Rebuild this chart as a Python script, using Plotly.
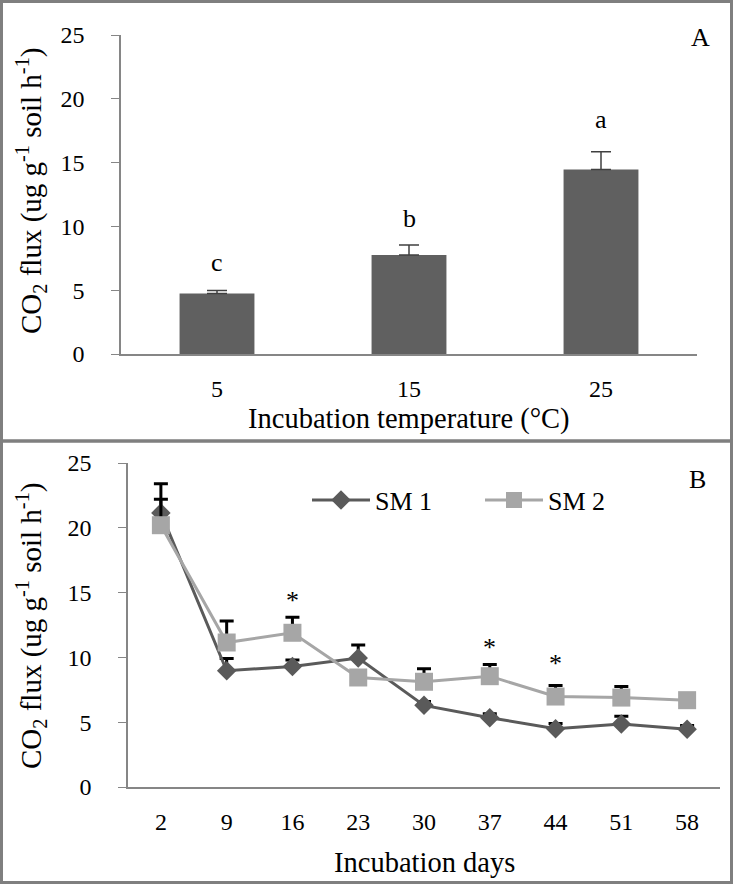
import plotly.graph_objects as go

# ---- Panel A data ----
temps = ["5", "15", "25"]
flux_temp = [4.75, 7.75, 14.45]
flux_temp_err = [0.22, 0.8, 1.4]
letters = ["c", "b", "a"]
letter_y = [7.2, 10.6, 18.4]

# ---- Panel B data ----
days = ["2", "9", "16", "23", "30", "37", "44", "51", "58"]
sm1 = [21.15, 8.97, 9.3, 9.95, 6.3, 5.35, 4.5, 4.86, 4.45]
sm1_err = [2.25, 0.95, 0.5, 1.0, 0.3, 0.3, 0.4, 0.6, 0.3]
sm2 = [20.2, 11.15, 11.9, 8.45, 8.12, 8.55, 6.98, 6.9, 6.7]
sm2_err = [2.0, 1.65, 1.2, 0.3, 1.0, 0.9, 0.85, 0.85, 0.3]
star_days = ["16", "37", "44"]
star_y = [14.4, 10.8, 9.5]

W, H = 733, 884
FONT = "'Liberation Serif', 'Times New Roman', 'DejaVu Serif', serif"
AXC = "#868686"

def px(x):
    return x / W

def py(y):
    return 1 - y / H

fig = go.Figure()

fig.add_trace(go.Bar(
    x=temps, y=flux_temp, xaxis="x", yaxis="y",
    marker=dict(color="#606060", line=dict(width=0)),
    error_y=dict(type="data", array=flux_temp_err, symmetric=False,
                 arrayminus=[0, 0, 0], color="#404040", thickness=1.5, width=10),
    showlegend=False,
))

fig.add_trace(go.Scatter(
    x=days, y=sm1, xaxis="x2", yaxis="y2", name="SM 1", mode="lines+markers",
    line=dict(color="#5a5a5a", width=3),
    marker=dict(symbol="diamond", size=15, color="#5a5a5a"),
    error_y=dict(type="data", array=sm1_err, symmetric=False,
                 arrayminus=[0] * 9, color="#000000", thickness=3, width=7),
))
fig.add_trace(go.Scatter(
    x=days, y=sm2, xaxis="x2", yaxis="y2", name="SM 2", mode="lines+markers",
    line=dict(color="#a6a6a6", width=3),
    marker=dict(symbol="square", size=18, color="#a6a6a6"),
    error_y=dict(type="data", array=sm2_err, symmetric=False,
                 arrayminus=[0] * 9, color="#000000", thickness=3, width=7),
))

tickfont = dict(family=FONT, size=24, color="#000")
common_y = dict(range=[0, 25], dtick=5, showgrid=False, zeroline=False,
                showline=True, linecolor=AXC, linewidth=1.5,
                ticks="outside", ticklen=8, tickcolor=AXC,
                tickfont=tickfont)
common_x = dict(type="category", showgrid=False, zeroline=False,
                showline=True, linecolor=AXC, linewidth=1.5,
                ticks="", tickfont=tickfont, ticklabelstandoff=12)

fig.update_layout(
    width=W, height=H,
    margin=dict(l=0, r=0, t=0, b=0, autoexpand=False),
    paper_bgcolor="white", plot_bgcolor="white",
    font=dict(family=FONT, color="#000"),
    bargap=0.61,
    xaxis=dict(domain=[px(121), px(697)], anchor="y", range=[-0.5, 2.5], **common_x),
    yaxis=dict(domain=[py(354), py(35)], anchor="x", ticklabelstandoff=22, **common_y),
    xaxis2=dict(domain=[px(128), px(720)], anchor="y2", range=[-0.5, 8.5], **common_x),
    yaxis2=dict(domain=[py(787), py(463)], anchor="x2", ticklabelstandoff=22, **common_y),
    legend=dict(orientation="h", x=px(307), y=py(500), xanchor="left", yanchor="middle",
                font=dict(family=FONT, size=26, color="#000"),
                bgcolor="rgba(0,0,0,0)", itemwidth=58, entrywidth=100),
)

ann = []
for t, l, ly in zip(temps, letters, letter_y):
    ann.append(dict(x=temps.index(t), y=ly, xref="x", yref="y", text=l, showarrow=False,
                    xanchor="center", yanchor="middle",
                    font=dict(family=FONT, size=26, color="#000")))
for d, sy in zip(star_days, star_y):
    ann.append(dict(x=days.index(d), y=sy, xref="x2", yref="y2", text="*", showarrow=False,
                    xanchor="center", yanchor="middle",
                    font=dict(family=FONT, size=26, color="#000")))

ylab = "CO<sub>2</sub> flux (ug g<sup>-1</sup> soil h<sup>-1</sup>)"
paper_ann = [
    (700, 38, "A", 0, 26),
    (697, 480, "B", 0, 26),
    (409, 419, "Incubation temperature (°C)", 0, 28.5),
    (424, 862, "Incubation days", 0, 28.5),
    (31, 191, ylab, -90, 29),
    (31, 626, ylab, -90, 29),
]
for x, y, text, ang, fs in paper_ann:
    ann.append(dict(x=px(x), y=py(y), xref="paper", yref="paper", text=text,
                    textangle=ang, showarrow=False, xanchor="center", yanchor="middle",
                    font=dict(family=FONT, size=fs, color="#000")))
fig.update_layout(annotations=ann)

border = dict(color="#7f7f7f", width=3)
fig.update_layout(shapes=[
    dict(type="rect", xref="paper", yref="paper", x0=px(1.5), x1=px(731.5),
         y0=py(441), y1=py(1.5), line=border),
    dict(type="rect", xref="paper", yref="paper", x0=px(1.5), x1=px(731.5),
         y0=py(882.5), y1=py(441), line=border),
])

fig.write_html("out.html", config={"displayModeBar": False},
               post_script="document.body.style.margin='0';")
